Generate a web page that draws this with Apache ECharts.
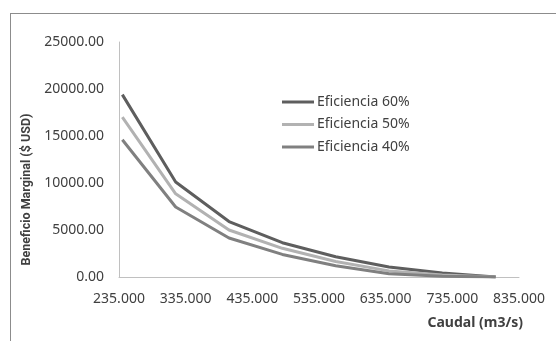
<!DOCTYPE html>
<html>
<head>
<meta charset="utf-8">
<script src="https://cdn.jsdelivr.net/npm/echarts@6/dist/echarts.min.js"></script>
<style>
  html, body { margin: 0; padding: 0; background: #fff; }
  #frame { position: absolute; left: 10px; top: 13px; width: 560px; height: 340px; border: 1px solid #8c8c8c; box-sizing: border-box; }
  #main { position: absolute; left: 0; top: 0; width: 556px; height: 341px; }
</style>
</head>
<body>
<div id="frame"></div>
<div id="main"></div>
<script>
// caudal (m3/s)
const caudal = [240, 320, 400, 480, 560, 640, 720, 800]
const ef60 = [19400, 10100, 5900, 3650, 2150, 1070, 430, 0]
const ef50 = [17000, 8850, 5000, 3050, 1650, 650, 200, 0]
const ef40 = [14600, 7450, 4150, 2400, 1200, 350, 80, 0]
const xTicks = [235, 335, 435, 535, 635, 735, 835]
const seriesNames = ['Eficiencia 60%', 'Eficiencia 50%', 'Eficiencia 40%']
const colors = ['#5e5e5e', '#b2b2b2', '#808080']

const toPairs = (ys) => caudal.map((x, i) => [x, ys[i]])
const font = 'Noto Sans'

const chart = echarts.init(document.getElementById('main'))
chart.setOption({
  animation: false,
  grid: { left: 119, right: 37, top: 42, bottom: 64 },
  legend: {
    data: seriesNames,
    orient: 'vertical',
    left: 282,
    top: 95,
    padding: 0,
    itemWidth: 32,
    itemHeight: 3,
    itemGap: 8.5,
    icon: 'rect',
    textStyle: { fontFamily: font, fontSize: 14, color: '#404040', padding: [0, 0, 0, -2] }
  },
  xAxis: {
    type: 'value',
    min: 235,
    max: 835,
    name: 'Caudal (m3/s)',
    nameLocation: 'end',
    nameGap: 4,
    nameTextStyle: {
      fontFamily: font, fontSize: 14, fontWeight: 'bold', color: '#404040',
      align: 'right', verticalAlign: 'top', padding: [39, 0, 0, 0]
    },
    axisLine: { lineStyle: { color: '#c0c0c0', width: 1 } },
    axisTick: { show: false },
    splitLine: { show: false },
    axisLabel: {
      customValues: xTicks,
      margin: 15,
      fontFamily: font, fontSize: 14, color: '#404040',
      formatter: (v) => v.toFixed(3)
    }
  },
  yAxis: {
    type: 'value',
    min: 0,
    max: 25000,
    interval: 5000,
    name: 'Beneficio Marginal ($ USD)',
    nameLocation: 'middle',
    nameGap: 82,
    nameRotate: 90,
    nameTextStyle: {
      fontFamily: 'Roboto', fontSize: 12.5, fontWeight: 'bold', color: '#404040',
      padding: [0, 60, 0, 0]
    },
    axisLine: { show: true, lineStyle: { color: '#c0c0c0', width: 1 } },
    axisTick: { show: false },
    splitLine: { show: false },
    axisLabel: {
      margin: 15,
      fontFamily: font, fontSize: 14, color: '#404040',
      formatter: (v) => v.toFixed(2)
    }
  },
  series: [ef60, ef50, ef40].map((d, i) => ({
    name: seriesNames[i],
    type: 'line',
    data: toPairs(d),
    showSymbol: false,
    color: colors[i],
    lineStyle: { width: 3, color: colors[i] }
  }))
})
</script>
</body>
</html>
